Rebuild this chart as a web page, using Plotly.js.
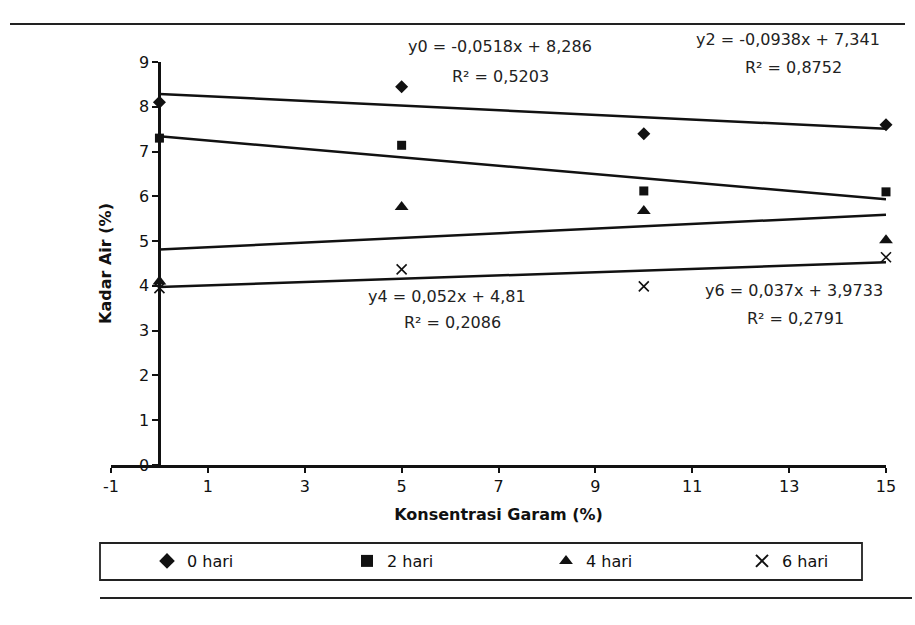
<!DOCTYPE html>
<html><head><meta charset="utf-8">
<script src="https://cdn.plot.ly/plotly-3.0.1.min.js"></script>
<style>body{margin:0;background:#fff}#c{width:915px;height:625px}</style>
</head><body><div id="c"></div>
<script>
// Data
var konsentrasi = [0, 5, 10, 15];
var hari0 = [8.1, 8.45, 7.4, 7.6];
var hari2 = [7.3, 7.14, 6.12, 6.1];
var hari4 = [4.1, 5.76, 5.67, 5.02];
var hari6 = [3.95, 4.37, 3.99, 4.64];
var seriesNames = ['0 hari', '2 hari', '4 hari', '6 hari'];
var slopes = [-0.0518, -0.0938, 0.052, 0.037];
var intercepts = [8.286, 7.341, 4.81, 3.9733];
var eqTexts = ['y0 = -0,0518x + 8,286', 'y2 = -0,0938x + 7,341', 'y4 = 0,052x + 4,81', 'y6 = 0,037x + 3,9733'];
var r2Texts = ['R² = 0,5203', 'R² = 0,8752', 'R² = 0,2086', 'R² = 0,2791'];
var xTickVals = [-1, 1, 3, 5, 7, 9, 11, 13, 15];
var yTickVals = [0, 1, 2, 3, 4, 5, 6, 7, 8, 9];

var W = 915, H = 625, L = 111, R = 29, T = 62, B = 160;
var pw = W - L - R, ph = H - T - B;
function px(x) { return (x - L) / pw; }
function py(y) { return (H - B - y) / ph; }

var symbols = ['diamond', 'square', 'triangle-up', 'x-thin-open'];
var sizes = [10, 9, 12, 10];
var allY = [hari0, hari2, hari4, hari6];
var legendIds = ['legend', 'legend2', 'legend3', 'legend4'];
var traces = [];
var xLine = [konsentrasi[0], konsentrasi[konsentrasi.length - 1]];
for (var i = 0; i < 4; i++) {
  traces.push({
    x: xLine,
    y: xLine.map(function (x) { return slopes[i] * x + intercepts[i]; }),
    mode: 'lines', line: {color: '#111', width: 2.5}, showlegend: false, hoverinfo: 'skip'
  });
}
for (var j = 0; j < 4; j++) {
  traces.push({
    x: konsentrasi, y: allY[j], name: seriesNames[j], mode: 'markers', legend: legendIds[j],
    cliponaxis: false,
    marker: {symbol: symbols[j], size: sizes[j], color: '#111', line: {color: '#111', width: j === 3 ? 1.6 : 0}}
  });
}

var eqPos = [[500, 47], [788, 40], [447, 296], [794, 290]];
var r2Pos = [[500, 76], [793, 67], [452, 322], [795, 318]];
var ann = [];
for (var k = 0; k < 4; k++) {
  ann.push({xref: 'paper', yref: 'paper', x: px(eqPos[k][0]), y: py(eqPos[k][1]), xanchor: 'center', yanchor: 'middle', text: eqTexts[k], showarrow: false, font: {size: 16, color: '#222'}});
  ann.push({xref: 'paper', yref: 'paper', x: px(r2Pos[k][0]), y: py(r2Pos[k][1]), xanchor: 'center', yanchor: 'middle', text: r2Texts[k], showarrow: false, font: {size: 16, color: '#222'}});
}

var legendSymX = [167, 367, 566, 762];
var layout = {
  width: W, height: H,
  margin: {l: L, r: R, t: T, b: B},
  paper_bgcolor: '#fff', plot_bgcolor: '#fff',
  font: {family: 'DejaVu Sans, Liberation Sans, sans-serif', color: '#111', size: 16},
  showlegend: true,
  xaxis: {
    range: [-1, 15], tickvals: xTickVals, ticktext: xTickVals.map(String),
    showgrid: false, zeroline: false, showline: true, linecolor: '#111', linewidth: 2.5,
    ticks: 'outside', ticklen: 5, tickwidth: 2, tickcolor: '#111',
    tickfont: {size: 16},
    title: {text: '<b>Konsentrasi Garam (%)</b>', font: {size: 16}, standoff: 14}
  },
  yaxis: {
    range: [0, 9], tickvals: yTickVals, anchor: 'free', position: 1 / 16,
    showgrid: false, zeroline: false, showline: true, linecolor: '#111', linewidth: 3,
    ticks: 'outside', ticklen: 6, tickwidth: 2, tickcolor: '#111',
    tickfont: {size: 16},
    title: {text: '<b>Kadar Air (%)</b>', font: {size: 16}, standoff: 22}
  },
  shapes: [
    {type: 'line', xref: 'paper', yref: 'paper', x0: px(10), x1: px(905), y0: py(24), y1: py(24), line: {color: '#222', width: 2}},
    {type: 'rect', xref: 'paper', yref: 'paper', x0: px(100), x1: px(862), y0: py(543), y1: py(580), line: {color: '#222', width: 1.8}},
    {type: 'line', xref: 'paper', yref: 'paper', x0: px(100), x1: px(912), y0: py(598), y1: py(598), line: {color: '#222', width: 2}}
  ],
  annotations: ann
};
for (var m = 0; m < 4; m++) {
  layout[legendIds[m]] = {
    x: px(legendSymX[m] - 20), xanchor: 'left', y: py(561), yanchor: 'middle',
    bgcolor: 'rgba(0,0,0,0)', borderwidth: 0, font: {size: 16}, itemsizing: 'constant',
    orientation: 'h'
  };
}
Plotly.newPlot('c', traces, layout, {displayModeBar: false, staticPlot: true});
</script>
</body></html>
